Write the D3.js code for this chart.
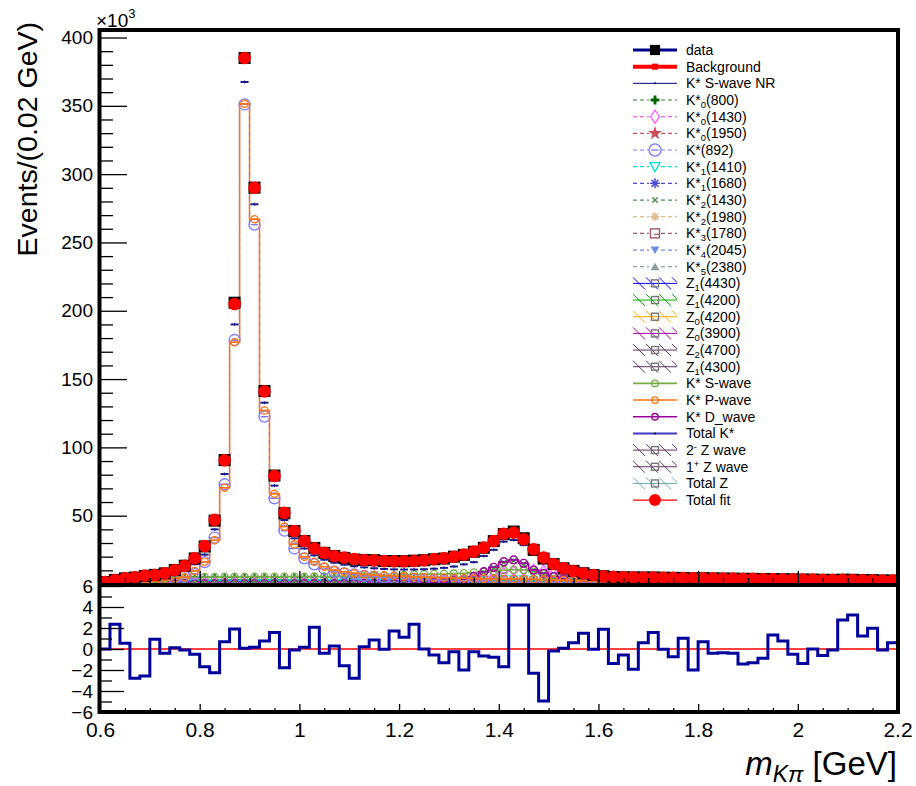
<!DOCTYPE html>
<html><head><meta charset="utf-8">
<script src="https://cdn.jsdelivr.net/npm/d3@7"></script>
<style>
body{margin:0;background:#fff}
svg{display:block;font-family:"Liberation Sans",Arial,Helvetica,sans-serif}
</style>
</head><body>
<svg id="chart" width="916" height="786"></svg>
<script>
// ---------------- DATA (values in 10^3 events per 0.02 GeV bin) ----------------
const X_MIN = 0.6, X_MAX = 2.2, BIN_W = 0.02, N_BINS = 80;

const dataVals = [1.5,3.0,4.1,4.7,5.9,6.7,7.8,10.2,13.4,18.7,
  27.5,46.4,90.7,205.9,385.0,290.1,141.3,79.4,51.8,38.8,
  31.5,26.4,22.8,20.5,19.1,17.9,17.6,17.4,16.8,16.8,
  16.7,17.1,17.4,18.1,18.6,20.0,21.3,23.6,26.5,31.4,
  36.5,38.4,33.5,25.0,18.6,14.6,11.5,9.6,7.9,6.6,
  5.7,5.1,4.9,4.8,4.8,4.8,4.6,4.5,4.45,4.2,
  4.25,4.1,4.0,3.9,3.8,3.75,3.65,3.65,3.5,3.4,
  3.25,3.2,3.05,3.0,3.15,3.1,2.85,2.8,2.6,2.55];

const totalFit = [1.5,2.9,4.1,4.9,6.1,6.6,7.8,10.2,13.4,18.8,
  27.8,46.9,90.5,205,385,290,141,79,52.2,38.8,
  31.5,26.1,22.9,20.5,19.3,18.3,17.6,17.3,16.8,16.6,
  16.6,16.8,17.4,18.2,18.8,20,21.5,23.7,26.6,31.5,
  36.8,37.6,32.7,25.4,19.3,14.6,11.5,9.5,7.8,6.6,
  5.6,5.2,5.0,4.9,4.8,4.7,4.6,4.5,4.4,4.3,
  4.2,4.1,4.0,3.9,3.85,3.8,3.7,3.6,3.5,3.4,
  3.3,3.2,3.1,3.0,3.0,2.9,2.8,2.7,2.6,2.5];

const totalKstar = [0.7,1.3,1.8,2.3,2.9,3.4,4.5,6.5,9.5,14.5,
  21.5,40,80.5,190,367.5,278,132.7,72,46.8,33.4,
  26,21,17.8,15.6,14.2,13.0,12.2,11.5,11.0,10.7,
  10.6,10.6,10.8,11.2,11.8,12.8,14.4,16.0,20.5,25.0,
  31.0,32.2,28.5,21.5,15.5,11.5,8.5,6.5,5.0,4.0,
  3.3,3.0,2.8,2.7,2.6,2.5,2.4,2.3,2.2,2.1,
  2.0,2.0,1.9,1.8,1.8,1.7,1.7,1.6,1.6,1.5,
  1.5,1.4,1.4,1.3,1.3,1.2,1.2,1.1,1.1,1.0];

const kstar892 = [0.3,0.5,0.7,1.0,1.4,1.9,2.7,3.9,5.3,7.3,
  16.0,34,73,178.6,351,263,122.5,62.7,39,26,
  18.8,14.4,11.0,9.0,7.8,7.0,6.0,5.3,4.7,4.2,
  3.8,3.4,3.1,2.8,2.6,2.4,2.2,2.0,1.9,1.8,
  1.7,1.6,1.5,1.4,1.3,1.2,1.1,1.0,1.0,0.9,
  0.9,0.85,0.8,0.8,0.75,0.7,0.7,0.65,0.65,0.6,
  0.6,0.6,0.55,0.55,0.5,0.5,0.5,0.5,0.45,0.45,
  0.45,0.4,0.4,0.4,0.4,0.35,0.35,0.35,0.35,0.3];

const pWave = [0.4,0.6,0.9,1.2,1.6,2.1,3.0,4.1,4.9,9.5,
  16.3,32,70.5,177,351.5,267,127,66,42,29,
  20,16.3,12.7,10.2,9.0,7.8,7.0,6.6,6.3,6.0,
  5.6,5.3,5.0,4.8,4.6,4.4,4.2,4.0,3.9,3.8,
  3.7,3.7,3.6,3.4,3.2,3.0,2.8,2.6,2.4,2.2,
  2.0,1.9,1.8,1.7,1.6,1.5,1.5,1.4,1.4,1.3,
  1.3,1.2,1.2,1.1,1.1,1.0,1.0,1.0,0.9,0.9,
  0.9,0.85,0.85,0.8,0.8,0.75,0.75,0.7,0.7,0.7];

const sWave = [1.5,2.2,2.8,3.3,3.7,4.0,4.3,4.6,4.8,5.0,
  5.1,5.2,5.3,5.3,5.3,5.3,5.3,5.3,5.3,5.3,
  5.3,5.4,5.4,5.5,5.5,5.6,5.7,5.8,6.0,6.2,
  6.6,7.0,7.1,7.3,7.4,7.6,7.9,8.4,8.9,9.5,
  10.2,10.5,10.2,9.0,7.5,5.8,4.3,3.2,2.5,2.0,
  1.7,1.5,1.4,1.3,1.3,1.2,1.2,1.1,1.1,1.0,
  1.0,1.0,0.95,0.95,0.9,0.9,0.9,0.85,0.85,0.8,
  0.8,0.8,0.75,0.75,0.75,0.7,0.7,0.7,0.65,0.65];

const dWave = [0.1,0.1,0.1,0.1,0.1,0.1,0.1,0.1,0.1,0.1,
  0.1,0.1,0.1,0.1,0.15,0.15,0.15,0.15,0.15,0.15,
  0.2,0.2,0.2,0.2,0.2,0.25,0.25,0.3,0.3,0.35,
  0.4,0.5,0.7,1.0,1.4,2.2,3.5,5.5,9.0,12.2,
  16.3,17.6,15.1,10.2,7.8,5.3,3.7,2.6,1.8,1.3,
  1.0,0.85,0.75,0.7,0.65,0.6,0.55,0.5,0.5,0.45,
  0.45,0.4,0.4,0.4,0.35,0.35,0.35,0.3,0.3,0.3,
  0.3,0.3,0.25,0.25,0.25,0.25,0.2,0.2,0.2,0.2];

const k0_800 = [1.8,2.4,3.0,3.5,3.9,4.2,4.5,4.7,4.9,5.0,
  5.0,5.1,5.1,5.1,5.1,5.1,5.1,5.1,5.1,5.1,
  5.1,5.1,5.1,5.1,5.0,5.0,5.0,5.0,5.0,5.0,
  4.9,4.7,4.5,4.3,4.1,3.9,3.7,3.5,3.3,3.1,
  2.9,2.8,2.6,2.5,2.3,2.2,2.1,2.0,1.9,1.8,
  1.7,1.65,1.6,1.55,1.5,1.45,1.4,1.35,1.3,1.3,
  1.25,1.2,1.2,1.15,1.1,1.1,1.05,1.05,1.0,1.0,
  1.0,0.95,0.95,0.9,0.9,0.9,0.85,0.85,0.85,0.8];

const k0_1430 = [0.5,0.55,0.6,0.65,0.7,0.75,0.8,0.85,0.9,0.95,
  1.0,1.0,1.0,1.05,1.05,1.1,1.1,1.1,1.15,1.15,
  1.2,1.2,1.2,1.25,1.25,1.3,1.35,1.4,1.45,1.5,
  1.6,1.7,1.9,2.1,2.4,2.8,3.4,4.3,5.5,7.0,
  8.5,9.5,10.2,10.5,10.0,8.5,6.5,4.5,3.2,2.4,
  1.9,1.6,1.4,1.3,1.2,1.1,1.0,1.0,0.95,0.9,
  0.9,0.85,0.85,0.8,0.8,0.75,0.75,0.7,0.7,0.7,
  0.65,0.65,0.6,0.6,0.6,0.55,0.55,0.55,0.5,0.5];

const k2_1430 = [0.05,0.05,0.05,0.05,0.05,0.05,0.05,0.05,0.05,0.05,
  0.05,0.05,0.05,0.1,0.1,0.1,0.1,0.1,0.1,0.1,
  0.15,0.15,0.15,0.15,0.15,0.2,0.2,0.25,0.25,0.3,
  0.35,0.45,0.6,0.9,1.3,2.0,3.2,5.2,8.6,11.8,
  15.8,17.0,14.6,9.8,7.4,5.0,3.4,2.4,1.6,1.2,
  0.9,0.75,0.65,0.6,0.55,0.5,0.45,0.45,0.4,0.4,
  0.35,0.35,0.35,0.3,0.3,0.3,0.3,0.25,0.25,0.25,
  0.25,0.25,0.2,0.2,0.2,0.2,0.2,0.15,0.15,0.15];

const k1_1410 = [0.2,0.2,0.25,0.25,0.3,0.3,0.35,0.35,0.4,0.4,
  0.45,0.5,0.5,0.55,0.6,0.6,0.65,0.65,0.7,0.7,
  0.75,0.8,0.85,0.9,0.95,1.0,1.05,1.1,1.2,1.3,
  1.4,1.5,1.6,1.8,2.0,2.3,2.6,2.9,3.2,3.4,
  3.5,3.6,3.5,3.2,2.8,2.3,1.8,1.4,1.1,0.9,
  0.8,0.7,0.65,0.6,0.55,0.5,0.5,0.45,0.45,0.4,
  0.4,0.4,0.35,0.35,0.35,0.3,0.3,0.3,0.3,0.25,
  0.25,0.25,0.25,0.2,0.2,0.2,0.2,0.2,0.15,0.15];

const totalZ = [0.4,0.7,1.0,1.3,1.6,1.9,2.2,2.5,2.7,2.9,
  3.0,3.1,3.2,3.3,3.3,3.3,3.3,3.3,3.3,3.2,
  3.2,3.2,3.1,3.1,3.1,3.0,3.0,3.0,3.0,3.0,
  3.0,3.0,3.0,3.0,3.0,2.9,2.9,2.9,2.9,2.9,
  2.9,2.9,2.9,2.9,2.8,2.8,2.8,2.7,2.7,2.6,
  2.5,2.4,2.3,2.2,2.1,2.0,1.9,1.9,1.8,1.8,
  1.7,1.7,1.6,1.6,1.5,1.5,1.5,1.4,1.4,1.4,
  1.3,1.3,1.3,1.2,1.2,1.2,1.1,1.1,1.1,1.0];

const pulls = [0,2.35,0.54,-2.79,-2.57,0.92,-0.41,0.13,-0.1,-0.51,
  -1.68,-2.25,0.70,1.90,0.06,0.16,0.76,1.56,-1.78,-0.1,
  0.16,2.06,-0.41,0.29,-1.59,-2.79,0.22,0.86,-0.03,1.71,
  1.11,2.35,0,-0.57,-1.30,-0.25,-2.0,-0.25,-0.67,-0.79,
  -1.68,4.19,4.2,-2.32,-4.95,-0.19,0.06,0.6,1.49,-0.03,
  1.87,-1.37,-0.57,-1.94,0.6,1.56,-0.03,-0.73,1.02,-2.0,
  0.7,-0.41,-0.35,-0.41,-1.43,-1.3,-0.89,1.33,0.76,-0.51,
  -1.37,0,-0.63,-0.1,2.76,3.24,1.24,1.97,-0.1,0.6];

const yTicksMain = [0,50,100,150,200,250,300,350,400];
const yTicksPull = [-6,-4,-2,0,2,4,6];
const xTicks = [0.6,0.8,1.0,1.2,1.4,1.6,1.8,2.0,2.2];

const legendLabels = ["data","Background","K* S-wave NR","K*_{0}(800)","K*_{0}(1430)",
  "K*_{0}(1950)","K*(892)","K*_{1}(1410)","K*_{1}(1680)","K*_{2}(1430)","K*_{2}(1980)",
  "K*_{3}(1780)","K*_{4}(2045)","K*_{5}(2380)","Z_{1}(4430)","Z_{1}(4200)","Z_{0}(4200)",
  "Z_{0}(3900)","Z_{2}(4700)","Z_{1}(4300)","K* S-wave","K* P-wave","K* D_wave","Total K*",
  "2^{-} Z wave","1^{+} Z wave","Total Z","Total fit"];

// ---------------- LAYOUT ----------------
const svg = d3.select("#chart");
const L = 100, R = 897.5, T = 30, B = 584, PT = 586, PB = 712;
const x = d3.scaleLinear().domain([X_MIN, X_MAX]).range([L, R]);
const y = d3.scaleLinear().domain([0, 405.5]).range([B, T]);
const yp = d3.scaleLinear().domain([-6, 6]).range([PB, PT]);
const binLow = d3.range(N_BINS).map(i => X_MIN + i * BIN_W);
const binCtr = binLow.map(v => v + BIN_W / 2);

const defs = svg.append("defs");
defs.append("clipPath").attr("id","clipTop").append("rect")
  .attr("x", L).attr("y", T).attr("width", R - L).attr("height", B - T);
defs.append("clipPath").attr("id","clipBot").append("rect")
  .attr("x", L).attr("y", PT).attr("width", R - L).attr("height", PB - PT);

function stepPts(vals, ys){
  const pts = vals.map((v,i) => [x(binLow[i]), ys(v)]);
  pts.push([x(X_MAX), ys(vals[vals.length-1])]);
  return pts;
}
const stepLine = d3.line().curve(d3.curveStepAfter);

function marker(g, type, cx, cy, color, s){
  s = s || 1;
  switch(type){
    case "square": g.append("rect").attr("x",cx-6*s).attr("y",cy-6*s).attr("width",12*s).attr("height",12*s).attr("fill",color); break;
    case "circleFill": g.append("circle").attr("cx",cx).attr("cy",cy).attr("r",6.3*s).attr("fill",color); break;
    case "circleBar":
      g.append("circle").attr("cx",cx).attr("cy",cy).attr("r",5.5*s).attr("fill","none").attr("stroke",color).attr("stroke-width",1.3);
      g.append("line").attr("x1",cx-3.5*s).attr("x2",cx+3.5*s).attr("y1",cy).attr("y2",cy).attr("stroke",color).attr("stroke-width",1.3); break;
    case "smallCircleBar":
      g.append("circle").attr("cx",cx).attr("cy",cy).attr("r",3.6*s).attr("fill","none").attr("stroke",color).attr("stroke-width",1.4);
      g.append("line").attr("x1",cx-2.5*s).attr("x2",cx+2.5*s).attr("y1",cy).attr("y2",cy).attr("stroke",color).attr("stroke-width",1.2); break;
    case "smallCircle":
      g.append("circle").attr("cx",cx).attr("cy",cy).attr("r",3.6*s).attr("fill","none").attr("stroke",color).attr("stroke-width",1.3); break;
    case "plus":
      g.append("path").attr("d",`M${cx-4*s},${cy}H${cx+4*s}M${cx},${cy-4*s}V${cy+4*s}`).attr("stroke",color).attr("stroke-width",2.6*s); break;
    case "diamond":
      g.append("path").attr("d",`M${cx},${cy-6*s}L${cx+4*s},${cy}L${cx},${cy+6*s}L${cx-4*s},${cy}Z`).attr("fill","none").attr("stroke",color).attr("stroke-width",1.3); break;
    case "star":
      g.append("path").attr("transform",`translate(${cx},${cy})`).attr("d",d3.symbol(d3.symbolStar, 60*s*s)()).attr("fill",color); break;
    case "triDown":
      g.append("path").attr("d",`M${cx-5*s},${cy-4*s}L${cx+5*s},${cy-4*s}L${cx},${cy+5*s}Z`).attr("fill","none").attr("stroke",color).attr("stroke-width",1.3); break;
    case "triDownFill":
      g.append("path").attr("d",`M${cx-4.5*s},${cy-3.5*s}L${cx+4.5*s},${cy-3.5*s}L${cx},${cy+4*s}Z`).attr("fill",color); break;
    case "triUpFill":
      g.append("path").attr("d",`M${cx-4.5*s},${cy+3.5*s}L${cx+4.5*s},${cy+3.5*s}L${cx},${cy-4*s}Z`).attr("fill",color); break;
    case "asterisk": {
      const r=5*s; let d="";
      for (let k=0;k<4;k++){ const a=k*Math.PI/4; d+=`M${cx-r*Math.cos(a)},${cy-r*Math.sin(a)}L${cx+r*Math.cos(a)},${cy+r*Math.sin(a)}`; }
      g.append("path").attr("d",d).attr("stroke",color).attr("stroke-width",1.5); break; }
    case "cross":
      g.append("path").attr("d",`M${cx-3*s},${cy-3*s}L${cx+3*s},${cy+3*s}M${cx-3*s},${cy+3*s}L${cx+3*s},${cy-3*s}`).attr("stroke",color).attr("stroke-width",1.5); break;
    case "squareBar":
      g.append("rect").attr("x",cx-4.5*s).attr("y",cy-4.5*s).attr("width",9*s).attr("height",9*s).attr("fill","none").attr("stroke",color).attr("stroke-width",1.4);
      g.append("line").attr("x1",cx-1).attr("x2",cx+4.5*s).attr("y1",cy+1).attr("y2",cy+1).attr("stroke",color).attr("stroke-width",1.2); break;
    case "graySquare":
      g.append("rect").attr("x",cx-3.5).attr("y",cy-3.5).attr("width",7).attr("height",7).attr("fill","none").attr("stroke","#777").attr("stroke-width",1.4); break;
    case "smallSquare":
      g.append("rect").attr("x",cx-3).attr("y",cy-3).attr("width",6).attr("height",6).attr("fill",color); break;
    case "dot":
      g.append("circle").attr("cx",cx).attr("cy",cy).attr("r",1).attr("fill",color); break;
  }
}

// ---------------- TOP PANEL ----------------
const topG = svg.append("g").attr("clip-path","url(#clipTop)");

// Total Z as filled step area (dense hatch appears grey)
topG.append("path")
  .attr("d", d3.area().curve(d3.curveStepAfter).x(d=>d[0]).y0(B).y1(d=>d[1])(stepPts(totalZ, y)))
  .attr("fill","#6d6d6d").attr("stroke","#555").attr("stroke-width",1);

function drawComp(vals, color, dash, width, mtype, ms){
  topG.append("path").attr("d", stepLine(stepPts(vals, y)))
    .attr("fill","none").attr("stroke",color).attr("stroke-width",width)
    .attr("stroke-dasharray", dash || null);
  if (mtype){
    const g = topG.append("g");
    vals.forEach((v,i) => marker(g, mtype, x(binCtr[i]), y(v), color, ms));
  }
}
drawComp(k0_800, "#2f7f2f", "4,3", 1.2, "plus", 0.9);
drawComp(k1_1410, "#00dede", "4,3", 1.2, "triDown", 0.8);
drawComp(k0_1430, "#ff5cff", "4,3", 1.2, "diamond", 0.9);
drawComp(k2_1430, "#4f8f4f", "4,3", 1.2, "cross", 1);
drawComp(sWave, "#78ab46", null, 1.5, "smallCircle", 1);
drawComp(dWave, "#990099", null, 1.5, "smallCircleBar", 1.1);
drawComp(kstar892, "#7a7aff", "5,3", 1.3, "circleBar", 1);
drawComp(pWave, "#ff7410", null, 1.5, "smallCircleBar", 1);

// Total K* : short horizontal dashes with a tiny centre tick
const tk = topG.append("g");
totalKstar.forEach((v,i) => {
  const cx = x(binCtr[i]), cy = y(v);
  tk.append("line").attr("x1",cx-4).attr("x2",cx+4).attr("y1",cy).attr("y2",cy)
    .attr("stroke","#1c1c8c").attr("stroke-width",2);
  tk.append("line").attr("x1",cx).attr("x2",cx).attr("y1",cy-1.5).attr("y2",cy+1.5)
    .attr("stroke","#1c1c8c").attr("stroke-width",1);
});

// data squares & total fit circles
const dg = topG.append("g");
dataVals.forEach((v,i) => marker(dg, "square", x(binCtr[i]), y(v), "#000"));
const fg = topG.append("g");
totalFit.forEach((v,i) => marker(fg, "circleFill", x(binCtr[i]), y(v), "#ff0000"));

// ---------------- AXES TOP ----------------
const yAxMajor = d3.axisLeft(y).tickValues(yTicksMain.filter(d=>d>0)).tickSize(-27).tickPadding(7).tickFormat(d3.format("d"));
const gy = svg.append("g").attr("transform",`translate(${L},0)`).call(yAxMajor);
gy.select(".domain").remove();
gy.selectAll("text").attr("font-size",19).attr("fill","#000").attr("font-family","Liberation Sans, Arial, sans-serif");
gy.selectAll("line").attr("stroke","#000").attr("stroke-width",1.3);
const yMinor = d3.range(10, 405, 10).filter(v => v % 50 !== 0);
const gym = svg.append("g").attr("transform",`translate(${L},0)`).call(d3.axisLeft(y).tickValues(yMinor).tickSize(-13).tickFormat(""));
gym.select(".domain").remove();
gym.selectAll("line").attr("stroke","#000").attr("stroke-width",1.3);

const xMinorVals = d3.range(0.65, 2.2, 0.05).filter(v => Math.abs(v*5 - Math.round(v*5)) > 1e-6);
const gx = svg.append("g").attr("transform",`translate(0,${B})`)
  .call(d3.axisBottom(x).tickValues(xTicks).tickSize(-13).tickFormat(""));
gx.select(".domain").remove(); gx.selectAll("line").attr("stroke","#000").attr("stroke-width",1.3);
const gxm = svg.append("g").attr("transform",`translate(0,${B})`)
  .call(d3.axisBottom(x).tickValues(xMinorVals).tickSize(-6).tickFormat(""));
gxm.select(".domain").remove(); gxm.selectAll("line").attr("stroke","#000").attr("stroke-width",1.3);

// frame of top panel
svg.append("path").attr("d",`M${L-0.5},${B}V${T}H${R+0.5}V${B}`).attr("fill","none").attr("stroke","#000").attr("stroke-width",4);

// ×10^3
const mult = svg.append("text").attr("x",96).attr("y",27).attr("font-size",19);
mult.append("tspan").text("×10");
mult.append("tspan").attr("font-size",13).attr("dy",-9).text("3");

// y title
svg.append("text").attr("transform","translate(37,22) rotate(-90)").attr("text-anchor","end")
  .attr("font-size",28.5).text("Events/(0.02 GeV)");

// ---------------- BOTTOM PANEL ----------------
svg.append("rect").attr("x",L).attr("y",PT).attr("width",R-L).attr("height",PB-PT).attr("fill","#fff");
const botG = svg.append("g").attr("clip-path","url(#clipBot)");
botG.append("line").attr("x1",L).attr("x2",R).attr("y1",yp(0)).attr("y2",yp(0)).attr("stroke","#ff0000").attr("stroke-width",1.6);
botG.append("path").attr("d", stepLine(stepPts(pulls, yp))).attr("fill","none")
  .attr("stroke","#00009a").attr("stroke-width",3);

const gpy = svg.append("g").attr("transform",`translate(${L},0)`)
  .call(d3.axisLeft(yp).tickValues(yTicksPull).tickSize(-24).tickPadding(7).tickFormat(d3.format("d")));
gpy.select(".domain").remove();
gpy.selectAll("text").attr("font-size",19).attr("fill","#000").attr("font-family","Liberation Sans, Arial, sans-serif");
gpy.selectAll("line").attr("stroke","#000").attr("stroke-width",1.3);
const gpym = svg.append("g").attr("transform",`translate(${L},0)`)
  .call(d3.axisLeft(yp).tickValues([-5,-3,-1,1,3,5]).tickSize(-12).tickFormat(""));
gpym.select(".domain").remove(); gpym.selectAll("line").attr("stroke","#000").attr("stroke-width",1.3);

const gbx = svg.append("g").attr("transform",`translate(0,${PB})`)
  .call(d3.axisBottom(x).tickValues(xTicks).tickSize(-8).tickPadding(7).tickFormat(d3.format("~g")));
gbx.select(".domain").remove();
gbx.selectAll("line").attr("stroke","#000").attr("stroke-width",1.3);
gbx.selectAll("text").attr("font-size",21).attr("fill","#000").attr("font-family","Liberation Sans, Arial, sans-serif").attr("dy","0.85em");
const gbxm = svg.append("g").attr("transform",`translate(0,${PB})`)
  .call(d3.axisBottom(x).tickValues(xMinorVals).tickSize(-4).tickFormat(""));
gbxm.select(".domain").remove(); gbxm.selectAll("line").attr("stroke","#000").attr("stroke-width",1.3);

svg.append("path").attr("d",`M${L-0.5},${B}V${PB}H${R+0.5}V${B}`).attr("fill","none").attr("stroke","#000").attr("stroke-width",4);
svg.append("line").attr("x1",L-2).attr("x2",R+2).attr("y1",B+1).attr("y2",B+1).attr("stroke","#000").attr("stroke-width",4);

// x title
const xt = svg.append("text").attr("x",897).attr("y",775).attr("text-anchor","end").attr("font-size",33);
xt.append("tspan").attr("font-style","italic").text("m");
xt.append("tspan").attr("font-style","italic").attr("font-size",23).attr("dy",7).text("Kπ");
xt.append("tspan").attr("dy",-7).text(" [GeV]");

// ---------------- LEGEND ----------------
const legStyles = [
  {c:"#000088", w:3, m:"square", mc:"#000", ms:0.85},
  {c:"#ff0000", w:4, m:"smallSquare"},
  {c:"#000077", w:1, m:"dot"},
  {c:"#2f7f2f", w:1.2, d:"4,3", m:"plus", mc:"#006600", ms:1.1},
  {c:"#ff5cff", w:1.2, d:"4,3", m:"diamond", ms:1.1},
  {c:"#cc4d5a", w:1.2, d:"4,3", m:"star", ms:1},
  {c:"#7a7aff", w:1.2, d:"4,3", m:"circleBar", ms:1.1},
  {c:"#00dede", w:1.2, d:"4,3", m:"triDown", ms:1},
  {c:"#4a4ad0", w:1.2, d:"4,3", m:"asterisk", ms:1},
  {c:"#4f8f4f", w:1.2, d:"4,3", m:"cross", ms:0.9},
  {c:"#e2b88a", w:1.2, d:"4,3", m:"asterisk", ms:0.9},
  {c:"#9b5a6a", w:1.2, d:"4,3", m:"squareBar", ms:1},
  {c:"#6e8fe0", w:1.2, d:"4,3", m:"triDownFill", ms:1},
  {c:"#8aa0a0", w:1.2, d:"4,3", m:"triUpFill", ms:1},
  {c:"#0000ff", hatch:true},
  {c:"#00aa00", hatch:true},
  {c:"#ffaa00", hatch:true},
  {c:"#aa00aa", hatch:true},
  {c:"#603060", hatch:true},
  {c:"#603060", hatch:true},
  {c:"#78ab46", w:1.6, m:"smallCircle", ms:0.9},
  {c:"#ff7410", w:1.6, m:"smallCircle", ms:0.9},
  {c:"#990099", w:1.6, m:"smallCircle", ms:0.9},
  {c:"#3a3ac0", w:2, m:"dot", mc:"#000"},
  {c:"#603060", hatch:true},
  {c:"#603060", hatch:true},
  {c:"#6aa8a8", hatch:true},
  {c:"#ff0000", w:1.3, m:"circleFill", ms:0.95}
];

const leg = svg.append("g");
const LX0 = 633, LX1 = 677, LTX = 686, LY0 = 50, LDY = 16.67;
legendLabels.forEach((lab, i) => {
  const cy = LY0 + i * LDY, st = legStyles[i], cx = (LX0 + LX1) / 2;
  if (st.hatch){
    leg.append("line").attr("x1",LX0).attr("x2",LX1).attr("y1",cy).attr("y2",cy).attr("stroke",st.c).attr("stroke-width",1);
    for (let k=0;k<4;k++){
      const a = LX0 + k*13, b = Math.min(a+12, LX1);
      leg.append("line").attr("x1",a).attr("y1",cy-6).attr("x2",b).attr("y2",cy-6+(b-a)).attr("stroke",st.c).attr("stroke-width",1);
    }
    marker(leg, "graySquare", cx, cy);
  } else {
    leg.append("line").attr("x1",LX0).attr("x2",LX1).attr("y1",cy).attr("y2",cy)
      .attr("stroke",st.c).attr("stroke-width",st.w).attr("stroke-dasharray",st.d||null);
    if (st.m){
      if (st.d) leg.append("rect").attr("x",cx-6).attr("y",cy-6).attr("width",12).attr("height",12).attr("fill","#fff");
      marker(leg, st.m, cx, cy, st.mc || st.c, st.ms || 1);
    }
  }
  const t = leg.append("text").attr("x",LTX).attr("y",cy+5).attr("font-size",14).attr("fill","#000");
  const parts = lab.split(/(_\{[^}]*\}|\^\{[^}]*\})/).filter(s => s.length);
  let shift = 0;
  parts.forEach(p => {
    if (p.startsWith("_{")){
      t.append("tspan").attr("font-size",9.5).attr("dy",3 - shift).text(p.slice(2,-1)); shift = 3;
    } else if (p.startsWith("^{")){
      t.append("tspan").attr("font-size",9.5).attr("dy",-5 - shift).text(p.slice(2,-1)); shift = -5;
    } else {
      t.append("tspan").attr("dy",-shift).text(p); shift = 0;
    }
  });
});
</script>
</body></html>
